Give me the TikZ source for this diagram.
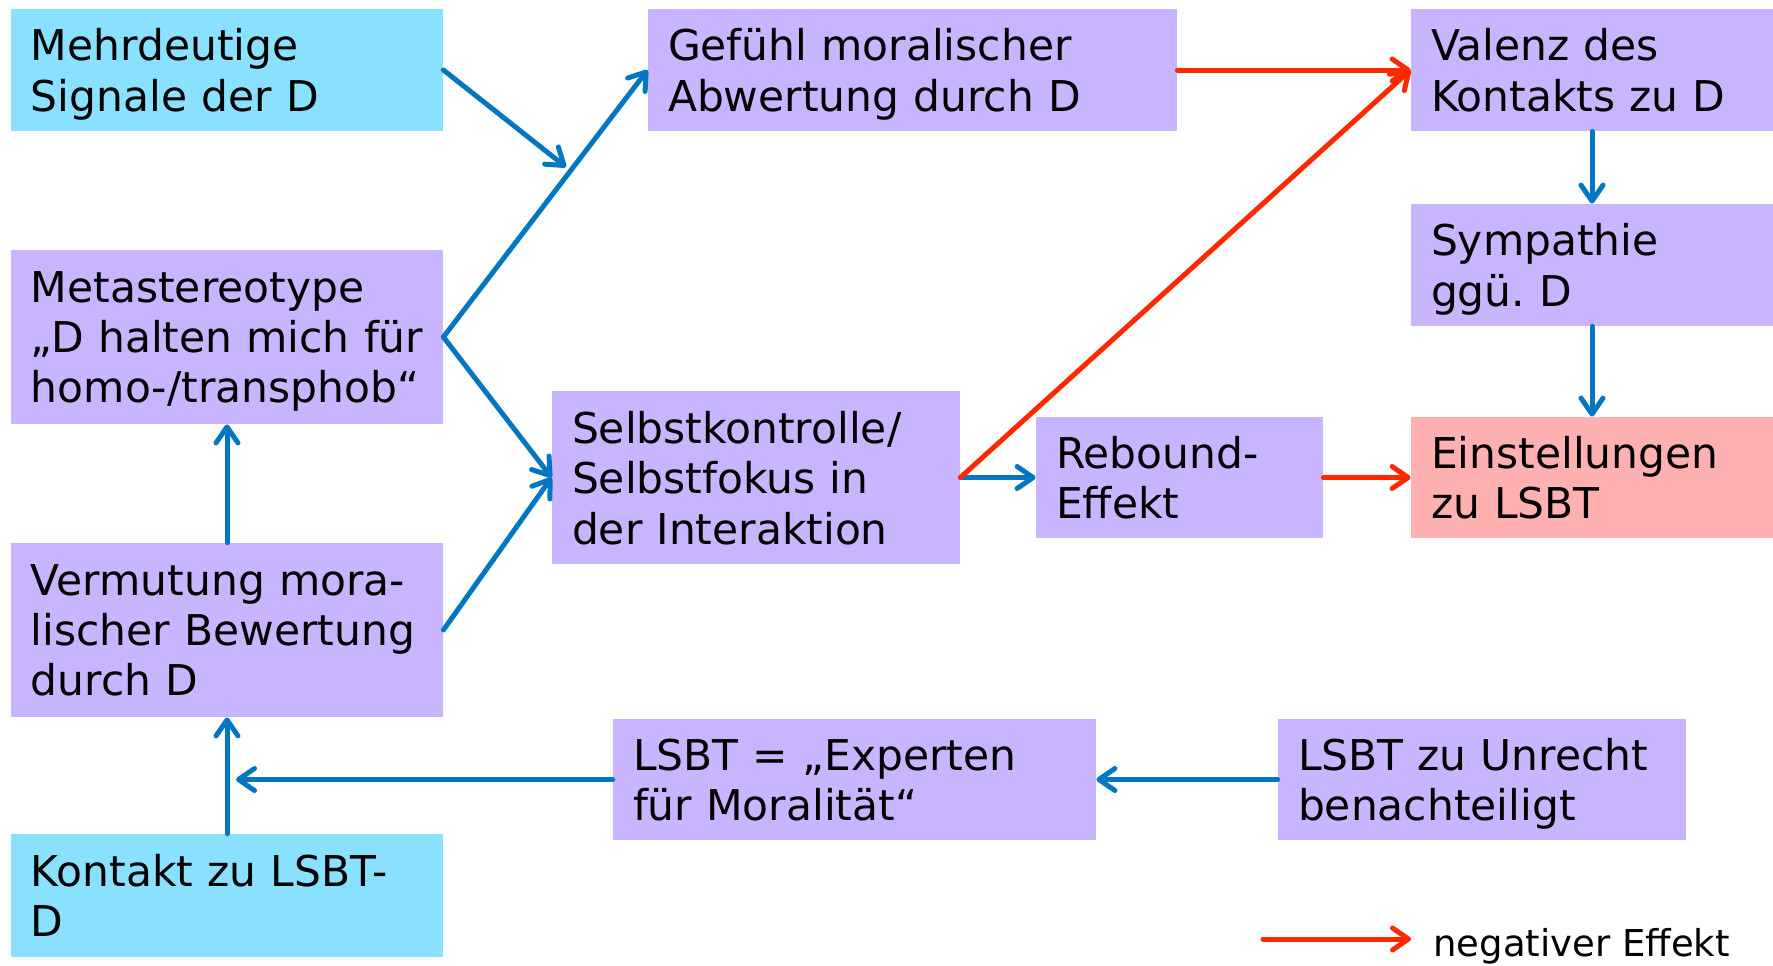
\documentclass[tikz,border=0pt]{standalone}
\usepackage{fontspec}
\setmainfont{DejaVu Sans}
\usetikzlibrary{arrows.meta}
\definecolor{cyanbox}{RGB}{137,224,255}
\definecolor{purplebox}{RGB}{200,180,255}
\definecolor{pinkbox}{RGB}{255,176,176}
\definecolor{bluearr}{RGB}{0,119,192}
\definecolor{redarr}{RGB}{255,40,0}
\newcommand\mylastdepthfix{\par\kern-\prevdepth}
\begin{document}
\frenchspacing
\begin{tikzpicture}[x=0.5pt,y=-0.5pt,
  box/.style={rectangle, inner xsep=10pt, inner ysep=0pt, align=left,
    font=\fontsize{21.2}{25.2}\selectfont\frenchspacing, anchor=center,
    execute at end node=\mylastdepthfix},
  cbox/.style={box, fill=cyanbox},
  pbox/.style={box, fill=purplebox},
  rbox/.style={box, fill=pinkbox},
  conn/.style={line width=2.5pt, line cap=round,
    -{Straight Barb[length=8pt,width=11pt,line cap=round,line join=round]}},
  bconn/.style={conn, draw=bluearr},
  rconn/.style={conn, draw=redarr},
  legend/.style={font=\fontsize{18.5}{22}\selectfont, inner sep=0pt, anchor=base west}
]
\useasboundingbox (0,0) rectangle (1773,965);

% left column
\node[cbox, text width=196pt, minimum height=61pt] (mehr) at (227,70)
  {Mehrdeutige\\Signale der D};
\node[pbox, text width=196pt, minimum height=87pt] (meta) at (227,337)
  {Metastereotype\\\mbox{„D halten mich für}\\\mbox{homo-/transphob“}};
\node[pbox, text width=196pt, minimum height=87pt] (verm) at (227,630)
  {Vermutung mora-\\lischer Bewertung\\durch D};
\node[cbox, text width=196pt, minimum height=61.5pt] (kont) at (227,895.5)
  {Kontakt zu LSBT-\\D};

% middle
\node[pbox, text width=244.5pt, minimum height=61pt] (gef) at (912.5,70)
  {Gefühl moralischer\\Abwertung durch D};
\node[pbox, text width=184pt, minimum height=86.5pt] (selbst) at (756,477.5)
  {Selbstkontrolle/\\Selbstfokus in\\der Interaktion};
\node[pbox, text width=123.5pt, minimum height=60.5pt] (rebound) at (1179.5,477.5)
  {Rebound-\\Effekt};
\node[pbox, text width=221.5pt, minimum height=60.5pt] (exp) at (854.5,779.5)
  {LSBT = „Experten\\für Moralität“};
\node[pbox, text width=184pt, minimum height=60.5pt] (unrecht) at (1482,779.5)
  {LSBT zu Unrecht\\benachteiligt};

% right column
\node[pbox, text width=161pt, minimum height=61pt] (valenz) at (1592,70)
  {Valenz des\\Kontakts zu D};
\node[pbox, text width=161pt, minimum height=61pt] (symp) at (1592,265)
  {Sympathie\\ggü. D};
\node[rbox, text width=161pt, minimum height=60.5pt] (einst) at (1592,477.5)
  {Einstellungen\\zu LSBT};

% helper coordinates
\coordinate (j1) at (566,167);
\coordinate (j2) at (236,779.5);
\coordinate (legA) at (1263,939);
\coordinate (legB) at (1411,939);

% connectors
\draw[bconn] (mehr.east) -- (j1);
\draw[bconn] (meta.east) -- (gef.west);
\draw[bconn] (meta.east) -- (selbst.west);
\draw[bconn] (verm.east) -- (selbst.west);
\draw[bconn] (verm.north) -- (meta.south);
\draw[bconn] (kont.north) -- (verm.south);
\draw[bconn] (exp.west) -- (j2);
\draw[bconn] (unrecht.west) -- (exp.east);
\draw[bconn] (selbst.east) -- (rebound.west);
\draw[rconn] (selbst.east) -- (valenz.west);
\draw[rconn] (gef.east) -- (valenz.west);
\draw[rconn] (rebound.east) -- (einst.west);
\draw[bconn] (valenz.south) -- (symp.north);
\draw[bconn] (symp.south) -- (einst.north);

% legend
\draw[rconn] (legA) -- (legB);
\node[legend] (legtext) at (1433,956) {negativer Effekt};
\end{tikzpicture}
\end{document}
